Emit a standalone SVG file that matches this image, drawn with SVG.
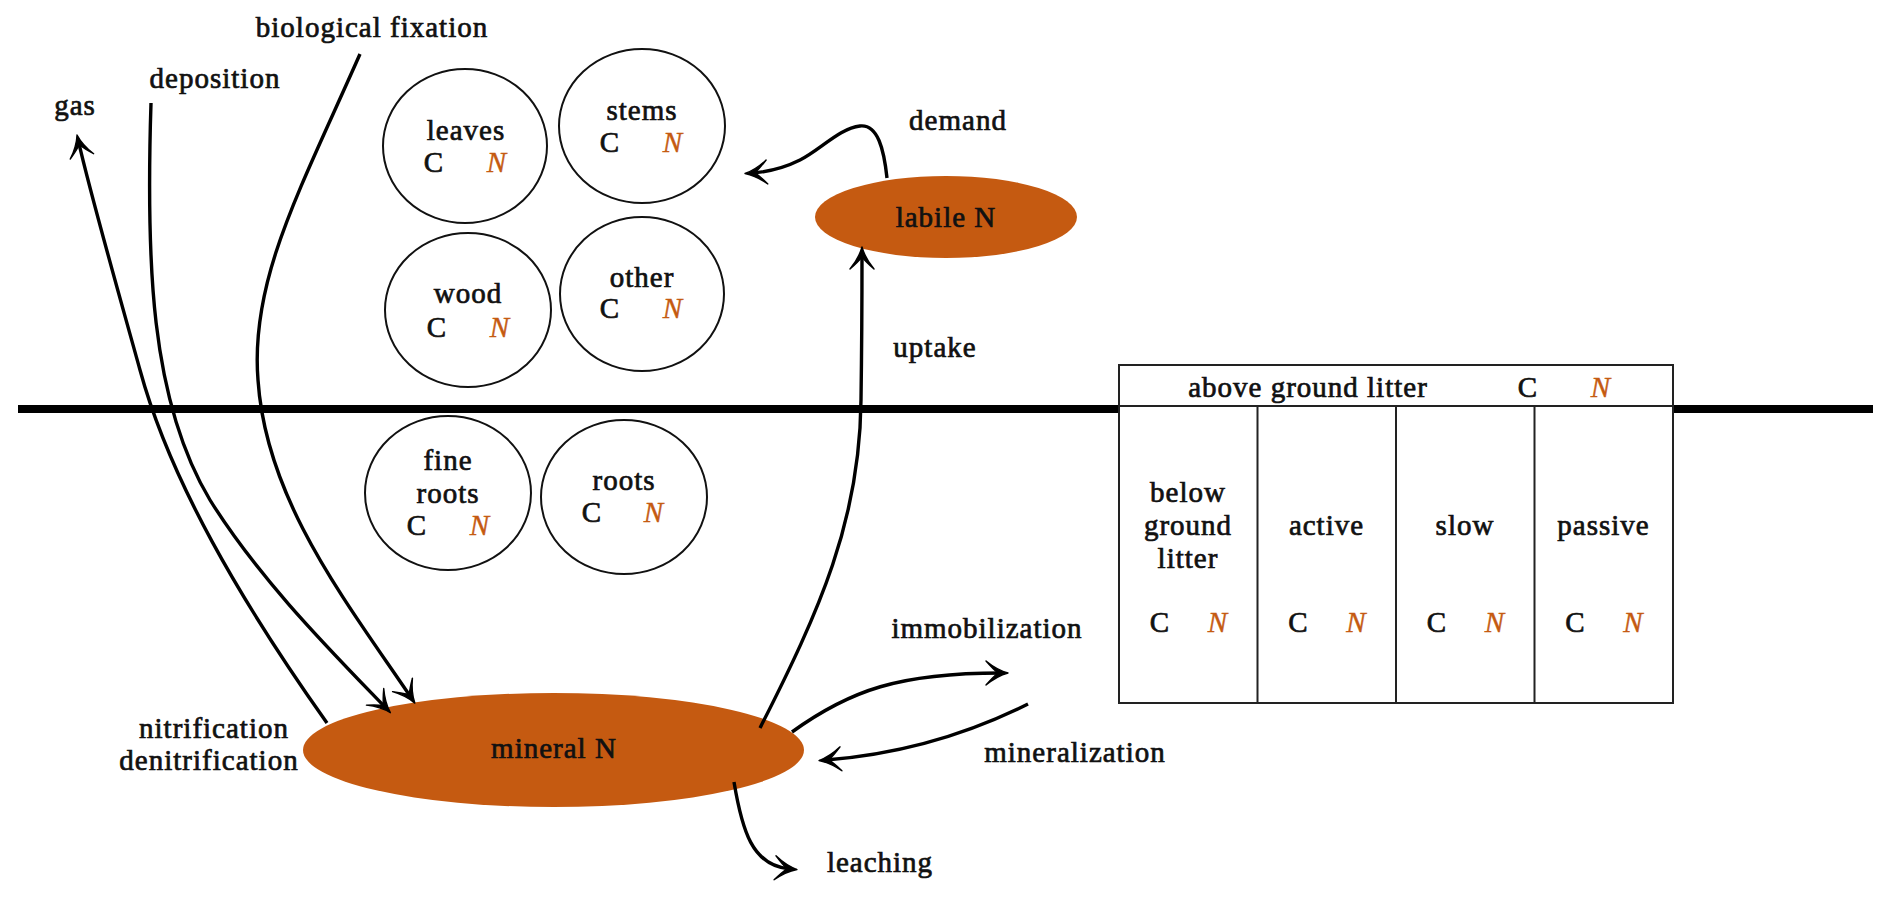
<svg xmlns="http://www.w3.org/2000/svg" width="1892" height="900" viewBox="0 0 1892 900">
<defs>
<style>
text{font-family:"Liberation Serif","Times New Roman",serif;font-size:29px;letter-spacing:1px;fill:#111;stroke:#111;stroke-width:0.7;text-anchor:middle}
.n{font-style:italic;fill:#C55A11;stroke:#C55A11;stroke-width:0.4}
.pool{fill:#fff;stroke:#111;stroke-width:2}
.org{fill:#C55A11}
.box{fill:none;stroke:#222;stroke-width:2}
.arr{fill:none;stroke:#000;stroke-width:3.4;marker-end:url(#ah)}
</style>
<marker id="ah" markerUnits="userSpaceOnUse" viewBox="-20 -14 32 28" markerWidth="32" markerHeight="28" refX="0" refY="0" orient="auto" overflow="visible">
<path d="M7,0 Q-4,-3 -15,-12 Q-8,-4 -3,0 Q-8,4 -15,12 Q-4,3 7,0 Z" fill="#000" stroke="#000" stroke-width="1.4" stroke-linejoin="round"/>
</marker>
</defs>
<rect width="1892" height="900" fill="#fff"/>
<line x1="18" y1="409" x2="1873" y2="409" stroke="#000" stroke-width="8"/>

<g id="leaves"><ellipse class="pool" cx="465" cy="146" rx="82" ry="77"/><text x="466" y="140">leaves</text><text x="434" y="172">C</text><text class="n" x="497" y="172">N</text></g>
<g id="stems"><ellipse class="pool" cx="642" cy="126" rx="83" ry="77"/><text x="642" y="120">stems</text><text x="610" y="152">C</text><text class="n" x="673" y="152">N</text></g>
<g id="wood"><ellipse class="pool" cx="468" cy="310" rx="83" ry="77"/><text x="468" y="303">wood</text><text x="437" y="337">C</text><text class="n" x="500" y="337">N</text></g>
<g id="other"><ellipse class="pool" cx="642" cy="294" rx="82" ry="77"/><text x="642" y="287">other</text><text x="610" y="318">C</text><text class="n" x="673" y="318">N</text></g>
<g id="fineroots"><ellipse class="pool" cx="448" cy="493" rx="83" ry="77"/><text x="448" y="470">fine</text><text x="448" y="503">roots</text><text x="417" y="535">C</text><text class="n" x="480" y="535">N</text></g>
<g id="roots"><ellipse class="pool" cx="624" cy="497" rx="83" ry="77"/><text x="624" y="490">roots</text><text x="592" y="522">C</text><text class="n" x="654" y="522">N</text></g>

<g id="labileN"><ellipse class="org" cx="946" cy="217" rx="131" ry="41"/><text x="946" y="227">labile N</text></g>
<g id="mineralN"><ellipse class="org" cx="553.5" cy="750" rx="250.5" ry="57"/><text x="554" y="758">mineral N</text></g>

<g id="litter">
<rect x="1119" y="365" width="554" height="338" fill="#fff" stroke="#222" stroke-width="2"/>
<line class="box" x1="1119" y1="406" x2="1673" y2="406"/>
<line class="box" x1="1257.5" y1="406" x2="1257.5" y2="703"/>
<line class="box" x1="1396" y1="406" x2="1396" y2="703"/>
<line class="box" x1="1534.5" y1="406" x2="1534.5" y2="703"/>
<text x="1308" y="397">above ground litter</text><text x="1528" y="397">C</text><text class="n" x="1601" y="397">N</text>
<text x="1188" y="502">below</text><text x="1188" y="535">ground</text><text x="1188" y="568">litter</text>
<text x="1160" y="632">C</text><text class="n" x="1218" y="632">N</text>
<text x="1326.5" y="535">active</text><text x="1298.5" y="632">C</text><text class="n" x="1356.5" y="632">N</text>
<text x="1465" y="535">slow</text><text x="1437" y="632">C</text><text class="n" x="1495" y="632">N</text>
<text x="1603.5" y="535">passive</text><text x="1575.5" y="632">C</text><text class="n" x="1633.5" y="632">N</text>
</g>

<g id="connectors">
<path class="arr" d="M327,723 C240,600 170,480 140,370 C115,280 91,196 78.6,141.8"/>
<path class="arr" d="M151,103 C146,260 150,400 210,500 C260,580 330,650 385.5,707.6"/>
<path class="arr" d="M360,54 C300,190 250,280 258,380 C266,500 345,600 410.9,697.3"/>
<path class="arr" d="M760,728 C820,610 860,520 861,400 C862,330 862,290 862,254"/>
<path class="arr" d="M887,178 C884,150 878,124 860,126 C840,128 820,150 800,160 C782,169 766,172 752,173"/>
<path class="arr" d="M792,732 C850,690 900,673 1001,673"/>
<path class="arr" d="M1028,704 C960,738 890,755 826,760"/>
<path class="arr" d="M734,782 C742,830 752,866 790,869"/>
</g>

<g id="labels">
<text x="75" y="115">gas</text>
<text x="215" y="88">deposition</text>
<text x="372" y="37">biological fixation</text>
<text x="958" y="130">demand</text>
<text x="935" y="357">uptake</text>
<text x="987" y="638">immobilization</text>
<text x="1075" y="762">mineralization</text>
<text x="880" y="872">leaching</text>
<text x="214" y="738">nitrification</text>
<text x="209" y="770">denitrification</text>
</g>
</svg>
